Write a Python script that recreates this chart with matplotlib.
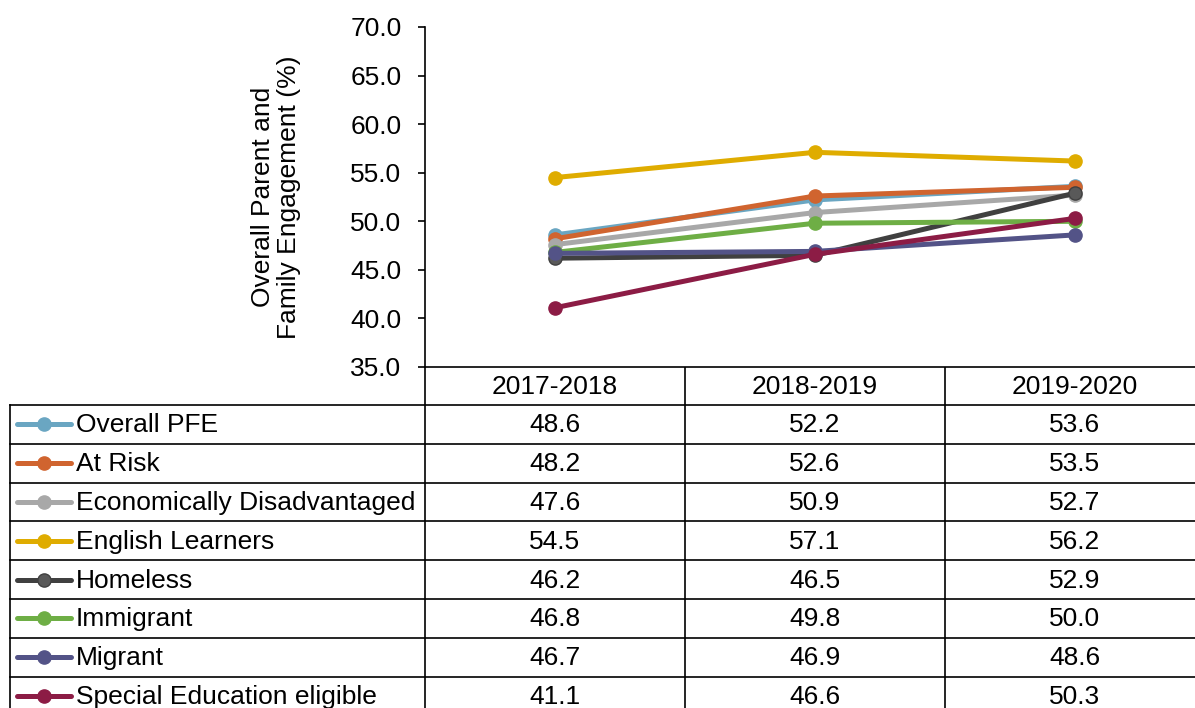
import matplotlib.pyplot as plt
from matplotlib.lines import Line2D

# Data
years = ["2017-2018", "2018-2019", "2019-2020"]
groups = ["Overall PFE", "At Risk", "Economically Disadvantaged", "English Learners",
          "Homeless", "Immigrant", "Migrant", "Special Education eligible"]
overall_pfe = [48.6, 52.2, 53.6]
at_risk = [48.2, 52.6, 53.5]
econ_dis = [47.6, 50.9, 52.7]
english_learners = [54.5, 57.1, 56.2]
homeless = [46.2, 46.5, 52.9]
immigrant = [46.8, 49.8, 50.0]
migrant = [46.7, 46.9, 48.6]
special_ed = [41.1, 46.6, 50.3]
series = [overall_pfe, at_risk, econ_dis, english_learners,
          homeless, immigrant, migrant, special_ed]
colors = ["#6AA6C2", "#D0642F", "#A8A8A8", "#DFAC00",
          "#404040", "#6EAE45", "#535387", "#8C1C45"]
marker_faces = ["#6AA6C2", "#D0642F", "#A8A8A8", "#DFAC00",
                "#595959", "#6EAE45", "#535387", "#8C1C45"]

plt.rcParams['font.family'] = ['Liberation Sans', 'DejaVu Sans']
fs = 19

W, H = 1195, 708
fig = plt.figure(figsize=(W / 100, H / 100), dpi=100)

# plot area in pixels
ax_left, ax_top, ax_bottom, col_w = 425, 27, 367, 260
ax = fig.add_axes([ax_left / W, (H - ax_bottom) / H,
                   3 * col_w / W, (ax_bottom - ax_top) / H])

x = range(len(years))
for vals, c, mf in zip(series, colors, marker_faces):
    ax.plot(x, vals, color=c, linewidth=3.6, marker='o', markersize=9.5,
            markerfacecolor=mf, markeredgecolor=c, solid_capstyle='round')

ax.set_xlim(-0.5, 2.5)
ax.set_ylim(35, 70)
ax.set_yticks(range(35, 71, 5))
ax.set_yticklabels([f"{v:.1f}" for v in range(35, 71, 5)])
ax.set_xticks([])
ax.tick_params(axis='y', direction='out', length=5, width=1.2, labelsize=fs, pad=12)
for s in ['top', 'right']:
    ax.spines[s].set_visible(False)
ax.spines['left'].set_linewidth(1.2)
ax.spines['bottom'].set_linewidth(1.2)
ax.set_ylabel("Overall Parent and\nFamily Engagement (%)", fontsize=fs, linespacing=1.1)
ax.yaxis.set_label_coords(-0.159, 0.5)

# data table below the plot, drawn in pixel coordinates
tax = fig.add_axes([0, 0, 1, 1], zorder=-1)
tax.set_xlim(0, W)
tax.set_ylim(H, 0)
tax.axis('off')

tbl_left = 10
hdr_bottom = 405
row_h = 38.8
n_rows = len(groups)
tbl_bottom = hdr_bottom + n_rows * row_h
lw = 1.2

# header vertical separators and labels
for i, yr in enumerate(years):
    cx = ax_left + col_w * (i + 0.5)
    tax.text(cx, (ax_bottom + hdr_bottom) / 2 + 1, yr, ha='center', va='center', fontsize=fs)
    xl = ax_left + col_w * i
    tax.add_line(Line2D([xl, xl], [ax_bottom, tbl_bottom], color='black', lw=lw))
tax.add_line(Line2D([tbl_left, tbl_left], [hdr_bottom, tbl_bottom], color='black', lw=lw))

for r in range(n_rows + 1):
    yy = hdr_bottom + r * row_h
    tax.add_line(Line2D([tbl_left, W], [yy, yy], color='black', lw=lw))

for r, (name, vals, c, mf) in enumerate(zip(groups, series, colors, marker_faces)):
    cy = hdr_bottom + (r + 0.5) * row_h
    tax.add_line(Line2D([17, 71], [cy, cy], color=c, lw=3.6, solid_capstyle='round'))
    tax.plot([44], [cy], marker='o', markersize=9.5, color=mf, markeredgecolor=c)
    tax.text(76, cy + 1, name, ha='left', va='center', fontsize=fs)
    for i, v in enumerate(vals):
        tax.text(ax_left + col_w * (i + 0.5), cy + 1, f"{v:.1f}",
                 ha='center', va='center', fontsize=fs)

fig.savefig("out.png", dpi=100)
